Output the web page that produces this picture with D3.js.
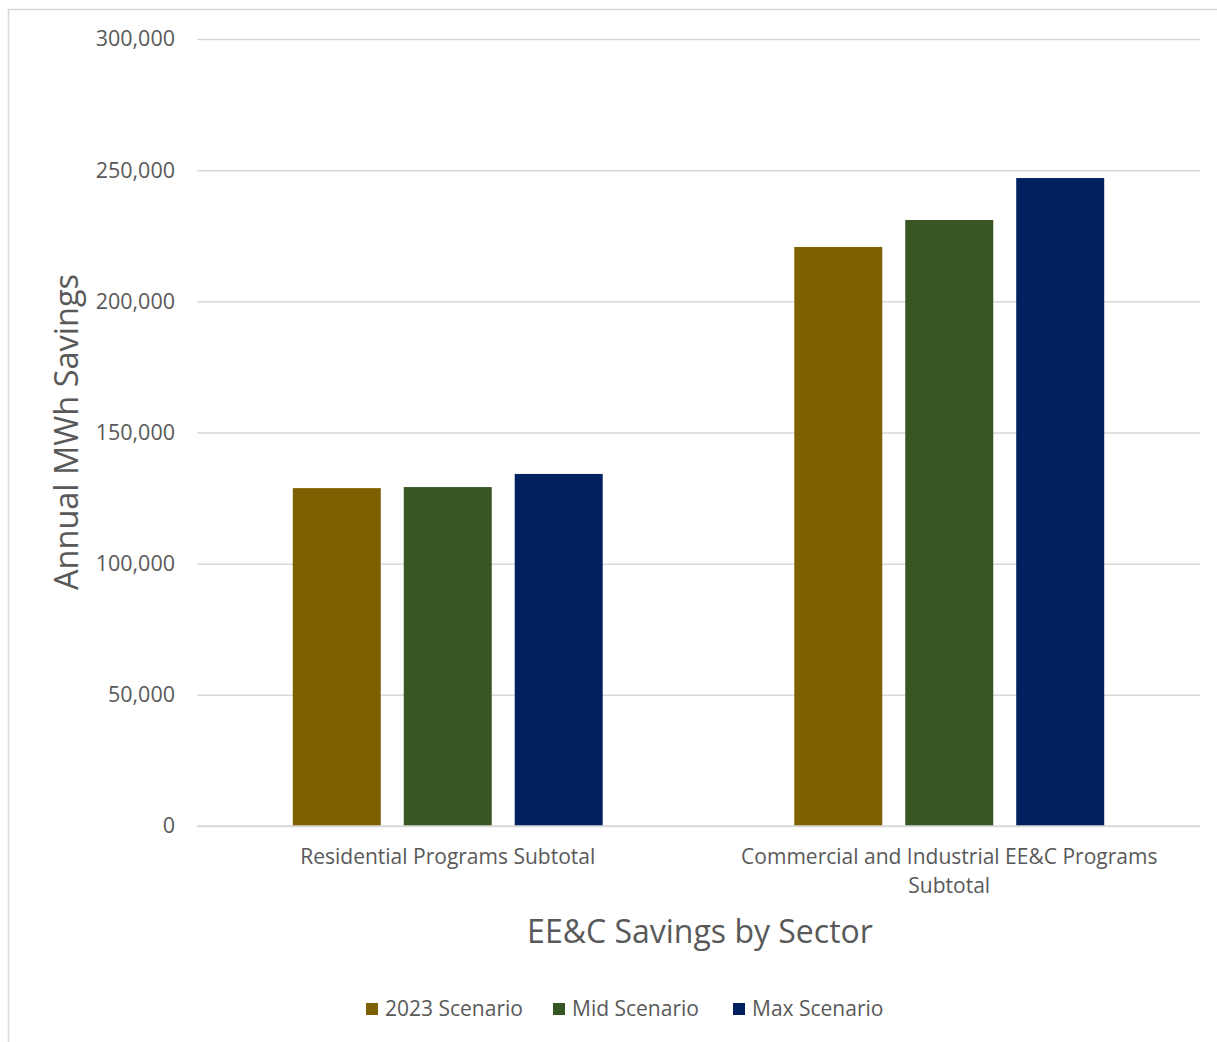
<!DOCTYPE html>
<html>
<head>
<meta charset="utf-8">
<script src="https://cdn.jsdelivr.net/npm/d3@7/dist/d3.min.js"></script>
<style>
  html, body { margin: 0; padding: 0; background: #fff; }
  svg { display: block; }
</style>
</head>
<body>
<svg id="chart" width="1217" height="1042"></svg>
<script>
// Sectors and scenario savings (annual MWh)
const categories = ["Residential Programs Subtotal", "Commercial and Industrial EE&C Programs Subtotal"];
const categoryLines = [["Residential Programs Subtotal"], ["Commercial and Industrial EE&C Programs", "Subtotal"]];
const seriesNames = ["2023 Scenario", "Mid Scenario", "Max Scenario"];
const seriesColors = ["#7F6000", "#375623", "#002060"];
const scenario2023 = [128800, 220700];
const scenarioMid = [129200, 231000];
const scenarioMax = [134200, 247000];
const yTicks = [0, 50000, 100000, 150000, 200000, 250000, 300000];

const seriesValues = [scenario2023, scenarioMid, scenarioMax];

const svg = d3.select("#chart");
const W = 1217, H = 1042;
const plot = { left: 197, right: 1200, top: 39, bottom: 826 };
const FONT = "'Open Sans', sans-serif";

// chart frame
svg.append("rect")
  .attr("x", 8.5).attr("y", 9.5)
  .attr("width", W + 10).attr("height", H + 10)
  .attr("fill", "#fff").attr("stroke", "#D9D9D9").attr("stroke-width", 1.5);

const x0 = d3.scaleBand().domain(categories).range([plot.left, plot.right]).paddingInner(0.382).paddingOuter(0.191);
const x0c = d3.scaleBand().domain(categories).range([plot.left, plot.right]);
const x1 = d3.scaleBand().domain(seriesNames).range([0, x0.bandwidth()]).paddingInner(0.207);
const y = d3.scaleLinear().domain([0, 300000]).range([plot.bottom, plot.top]);

// y axis: gridlines + labels
const yAxis = d3.axisLeft(y).tickValues(yTicks).tickSize(-(plot.right - plot.left)).tickPadding(22)
  .tickFormat(d3.format(","));
const gy = svg.append("g").attr("transform", `translate(${plot.left},0)`).call(yAxis);
gy.select(".domain").remove();
gy.selectAll(".tick line").attr("stroke", "#D9D9D9").attr("stroke-width", 1.5);
gy.selectAll(".tick text")
  .attr("fill", "#595959")
  .style("font-family", FONT)
  .style("font-size", "21.5px");

// bars
const groups = svg.append("g").selectAll("g")
  .data(categories)
  .join("g")
  .attr("transform", d => `translate(${x0(d)},0)`);

groups.selectAll("rect")
  .data((d, i) => seriesNames.map((s, j) => ({ s, v: seriesValues[j][i], c: seriesColors[j] })))
  .join("rect")
  .attr("x", d => x1(d.s))
  .attr("width", x1.bandwidth())
  .attr("y", d => y(d.v))
  .attr("height", d => y(0) - y(d.v))
  .attr("fill", d => d.c);

// baseline redrawn on top of bars
svg.append("line")
  .attr("x1", plot.left).attr("x2", plot.right)
  .attr("y1", y(0)).attr("y2", y(0))
  .attr("stroke", "#D9D9D9").attr("stroke-width", 1.5);

// category labels
const catLabels = svg.append("g").selectAll("text")
  .data(categories)
  .join("text")
  .attr("text-anchor", "middle")
  .attr("fill", "#595959")
  .style("font-family", FONT)
  .style("font-size", "21px")
  .attr("x", d => x0c(d) + x0c.bandwidth() / 2)
  .attr("y", 864);
catLabels.selectAll("tspan")
  .data((d, i) => categoryLines[i])
  .join("tspan")
  .attr("x", function () { return d3.select(this.parentNode).attr("x"); })
  .attr("dy", (d, i) => i === 0 ? 0 : 29)
  .text(d => d);

// axis titles
svg.append("text")
  .attr("x", 700).attr("y", 943)
  .attr("text-anchor", "middle")
  .attr("fill", "#595959")
  .style("font-family", FONT)
  .style("font-size", "32px")
  .text("EE&C Savings by Sector");

svg.append("text")
  .attr("transform", "translate(78,432) rotate(-90)")
  .attr("text-anchor", "middle")
  .attr("fill", "#595959")
  .style("font-family", FONT)
  .style("font-size", "32.5px")
  .text("Annual MWh Savings");

// legend
const legendX = [366, 553, 733];
const legend = svg.append("g").selectAll("g")
  .data(seriesNames)
  .join("g")
  .attr("transform", (d, i) => `translate(${legendX[i]},1003)`);
legend.append("rect").attr("width", 12).attr("height", 12).attr("fill", (d, i) => seriesColors[i]);
legend.append("text")
  .attr("x", 19).attr("y", 13)
  .attr("fill", "#595959")
  .style("font-family", FONT)
  .style("font-size", "21px")
  .text(d => d);
</script>
</body>
</html>
